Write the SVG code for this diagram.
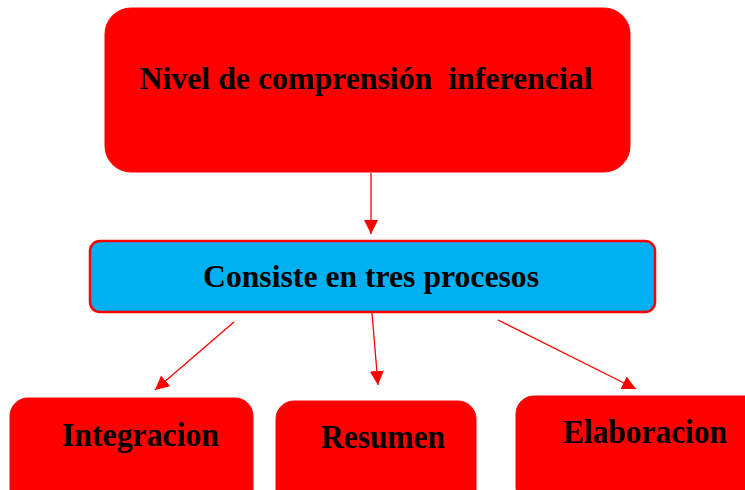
<svg xmlns="http://www.w3.org/2000/svg" width="745" height="490" viewBox="0 0 745 490">
<defs>
<style>
.red{fill:#FF0000;stroke:#FF0000;stroke-width:1}
.blue{fill:#00B0F0;stroke:#FF0000;stroke-width:2.5}
.t{font-family:"Liberation Serif","Times New Roman",serif;font-weight:bold;fill:#000;text-anchor:middle;white-space:pre}
.c{stroke:#FF0000;stroke-width:1.3;fill:none;marker-end:url(#ah)}
</style>
<marker id="ah" viewBox="0 0 10 10" refX="10" refY="5" markerWidth="14" markerHeight="14" markerUnits="userSpaceOnUse" orient="auto">
<path d="M0,0 L10,5 L0,10 Z" fill="#FF0000"/>
</marker>
</defs>
<rect width="745" height="490" fill="#fff"/>
<g id="connectors">
<line class="c" x1="371" y1="173" x2="371" y2="234"/>
<line class="c" x1="234" y1="322" x2="155" y2="390"/>
<line class="c" x1="372" y1="313" x2="378" y2="385"/>
<line class="c" x1="498" y1="320" x2="636" y2="389"/>
</g>
<g id="n1">
<rect class="red" x="105" y="8" width="525" height="164" rx="26"/>
<text class="t" x="366" y="89" font-size="32" textLength="453" lengthAdjust="spacingAndGlyphs">Nivel de comprensión  inferencial</text>
</g>
<g id="n2">
<rect class="blue" x="90" y="241" width="565" height="71" rx="10"/>
<text class="t" x="371" y="287" font-size="32" textLength="336" lengthAdjust="spacingAndGlyphs">Consiste en tres procesos</text>
</g>
<g id="n3">
<rect class="red" x="10" y="398" width="243" height="110" rx="18"/>
<text class="t" x="140.5" y="446" font-size="34" textLength="157" lengthAdjust="spacingAndGlyphs">Integracion</text>
</g>
<g id="n4">
<rect class="red" x="276" y="401" width="200" height="110" rx="18"/>
<text class="t" x="383" y="448" font-size="34" textLength="124" lengthAdjust="spacingAndGlyphs">Resumen</text>
</g>
<g id="n5">
<rect class="red" x="516" y="396" width="250" height="110" rx="18"/>
<text class="t" x="645" y="443" font-size="34" textLength="164" lengthAdjust="spacingAndGlyphs">Elaboracion</text>
</g>
</svg>
